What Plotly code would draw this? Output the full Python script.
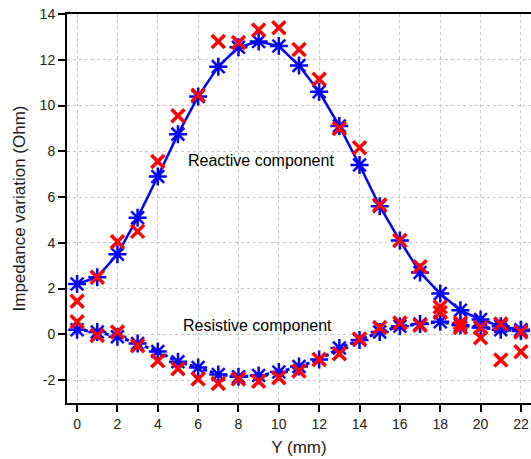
import plotly.graph_objects as go

y_mm = list(range(23))

reactive_fit = [2.2, 2.5, 3.5, 5.1, 6.9, 8.75, 10.4, 11.7, 12.55, 12.8, 12.6, 11.75,
                10.6, 9.1, 7.4, 5.6, 4.1, 2.7, 1.78, 1.05, 0.65, 0.35, 0.2]
reactive_meas = [1.45, 2.5, 4.05, 4.5, 7.55, 9.55, 10.45, 12.8, 12.75, 13.3, 13.4, 12.45,
                 11.15, 9.0, 8.15, 5.65, 4.1, 2.95, 1.2, 0.5, 0.3, 0.45, 0.1]
resistive_fit = [0.2, 0.1, -0.1, -0.4, -0.75, -1.2, -1.45, -1.75, -1.85, -1.8, -1.65, -1.4,
                 -1.1, -0.6, -0.25, 0.1, 0.35, 0.45, 0.55, 0.4, 0.3, 0.2, 0.15]
resistive_meas = [0.55, -0.05, 0.1, -0.5, -1.15, -1.5, -1.95, -2.15, -1.95, -2.05, -1.9, -1.6,
                  -1.1, -0.85, -0.2, 0.3, 0.5, 0.4, 0.95, 0.3, -0.15, -1.12, -0.76]

x_ticks = list(range(0, 23, 2))
y_ticks = list(range(-2, 15, 2))

BLUE = "#0000FF"
RED = "#FF0000"
FONT = "Liberation Sans, Arial, sans-serif"

fig = go.Figure()

fig.add_trace(go.Scatter(
    x=y_mm, y=reactive_fit, mode="lines+markers",
    line=dict(color=BLUE, width=2.5),
    marker=dict(symbol="asterisk", size=15, color=BLUE, line=dict(color=BLUE, width=2.5)),
    showlegend=False, cliponaxis=False))
fig.add_trace(go.Scatter(
    x=y_mm, y=resistive_fit, mode="lines+markers",
    line=dict(color=BLUE, width=3, dash="4px,3px"),
    marker=dict(symbol="asterisk", size=15, color=BLUE, line=dict(color=BLUE, width=2.5)),
    showlegend=False, cliponaxis=False))
fig.add_trace(go.Scatter(
    x=y_mm, y=reactive_meas, mode="markers",
    marker=dict(symbol="x-thin", size=13, color=RED, line=dict(color=RED, width=3.5)),
    showlegend=False, cliponaxis=False))
fig.add_trace(go.Scatter(
    x=y_mm, y=resistive_meas, mode="markers",
    marker=dict(symbol="x-thin", size=13, color=RED, line=dict(color=RED, width=3.5)),
    showlegend=False, cliponaxis=False))

fig.add_annotation(x=9.1, y=7.6, text="Reactive component", showarrow=False,
                   font=dict(family=FONT, size=16, color="black"))
fig.add_annotation(x=8.95, y=0.4, text="Resistive component", showarrow=False,
                   font=dict(family=FONT, size=16, color="black"))

fig.update_layout(
    width=531, height=459,
    margin=dict(l=67, r=0, t=14, b=56),
    paper_bgcolor="white", plot_bgcolor="white",
    font=dict(family=FONT, color="#222222"),
)
fig.update_xaxes(
    range=[-0.5, 22.5], tickvals=x_ticks, ticktext=[str(v) for v in x_ticks],
    showgrid=True, gridcolor="#c8c8c8", gridwidth=1, griddash="3px,3px",
    showline=True, linecolor="black", linewidth=2, mirror=True,
    ticks="outside", ticklen=7, tickwidth=2, tickcolor="black",
    tickfont=dict(size=14, family=FONT, color="#222222"),
    title=dict(text="Y (mm)", font=dict(size=17, family=FONT, color="#222222"), standoff=10),
    zeroline=False,
)
fig.update_yaxes(
    range=[-3, 14], tickvals=y_ticks, ticktext=[str(v) for v in y_ticks],
    showgrid=True, gridcolor="#c8c8c8", gridwidth=1, griddash="3px,3px",
    showline=True, linecolor="black", linewidth=2,
    ticks="outside", ticklen=7, tickwidth=2, tickcolor="black",
    tickfont=dict(size=14, family=FONT, color="#222222"),
    title=dict(text="Impedance variation (Ohm)", font=dict(size=17, family=FONT, color="#222222"), standoff=10),
    zeroline=False,
)

fig.write_html("out.html", config={"displayModeBar": False},
               post_script="document.body.style.margin='0px';document.body.style.overflow='hidden';")
